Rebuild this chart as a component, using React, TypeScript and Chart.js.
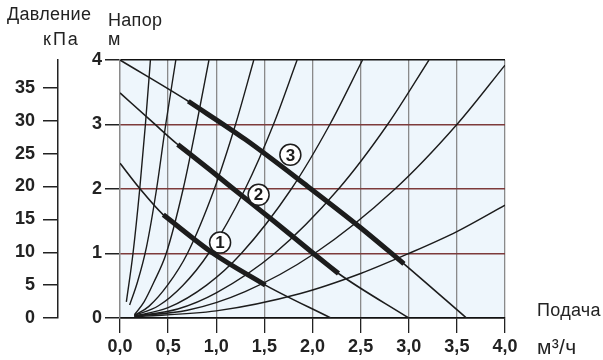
import React, { useEffect, useRef } from "react";
import { Chart, registerables } from "chart.js";

Chart.register(...registerables);

const FONT = '"Liberation Sans", Arial, Helvetica, sans-serif';

// ---- axis ticks ----
const flowTicks = [0, 0.5, 1, 1.5, 2, 2.5, 3, 3.5, 4];
const headTicks = [0, 1, 2, 3, 4];
const kpaTicks = [0, 5, 10, 15, 20, 25, 30, 35];
const kpaPerMetre = 9.81;

// ---- pump curves (Q m3/h, H m) ----
const pump1Q = [0, 0.21, 0.45, 0.97, 1.51, 2.19];
const pump1H = [2.4, 2.0, 1.6, 1.0, 0.51, 0];
const pump1Thick = [2, 4];

const pump2Q = [0, 0.35, 0.6, 0.94, 1.18, 1.6, 2.01, 2.27, 3.0];
const pump2H = [3.49, 3.02, 2.69, 2.29, 2.0, 1.5, 1.0, 0.69, 0];
const pump2Thick = [2, 7];

const pump3Q = [0, 0.71, 1.3, 1.95, 2.5, 2.95, 3.6];
const pump3H = [4.0, 3.36, 2.77, 2.04, 1.4, 0.84, 0];
const pump3Thick = [1, 5];

// ---- circled speed labels ----
const speedLabels = ["1", "2", "3"];
const speedLabelQ = [1.04, 1.44, 1.77];
const speedLabelH = [1.17, 1.91, 2.53];

// ---- system curves ----
const sysAQ = [0.066, 0.135, 0.205, 0.264, 0.316];
const sysAH = [0.25, 1.0, 2.0, 3.0, 4.0];
const sysBQ = [0.1, 0.18, 0.275, 0.38, 0.475, 0.58];
const sysBH = [0.2, 0.55, 1.1, 2.0, 3.0, 4.0];
const sysCQ = [0.15, 0.25, 0.35, 0.48, 0.656, 0.795, 0.924];
const sysCH = [0.05, 0.25, 0.55, 1.0, 2.0, 3.0, 4.0];
const sysDQ = [0.15, 0.3, 0.5, 0.7, 0.98, 1.2, 1.39];
const sysDH = [0.04, 0.18, 0.52, 1.0, 2.0, 3.0, 4.0];
const sysEQ = [0.15, 0.4, 0.65, 0.92, 1.3, 1.594, 1.84];
const sysEH = [0.04, 0.19, 0.5, 1.0, 2.0, 3.0, 4.0];
const sysFQ = [0.15, 0.5, 0.9, 1.26, 1.78, 2.18, 2.52];
const sysFH = [0.03, 0.16, 0.51, 1.0, 2.0, 3.0, 4.0];
const sysGQ = [0.15, 0.6, 1.0, 1.605, 2.27, 2.78, 3.21];
const sysGH = [0.03, 0.14, 0.39, 1.0, 2.0, 3.0, 4.0];
const sysHQ = [0.15, 0.7, 1.3, 2.02, 2.857, 3.5, 4.0];
const sysHH = [0.03, 0.12, 0.41, 1.0, 2.0, 3.0, 3.92];
const sysIQ = [0.15, 1.0, 1.875, 2.5, 3.0, 3.5, 4.0];
const sysIH = [0.02, 0.11, 0.38, 0.69, 1.0, 1.34, 1.75];

const systemCurves: [number[], number[]][] = [
  [sysAQ, sysAH],
  [sysBQ, sysBH],
  [sysCQ, sysCH],
  [sysDQ, sysDH],
  [sysEQ, sysEH],
  [sysFQ, sysFH],
  [sysGQ, sysGH],
  [sysHQ, sysHH],
  [sysIQ, sysIH],
];

const pumps: [number[], number[], number[]][] = [
  [pump1Q, pump1H, pump1Thick],
  [pump2Q, pump2H, pump2Thick],
  [pump3Q, pump3H, pump3Thick],
];

const toPts = (q: number[], h: number[]) => q.map((x, i) => ({ x, y: h[i] }));

const LINE = "#1c1c1c";

const bgPlugin = {
  id: "bgPlugin",
  beforeDraw(chart: any) {
    const { ctx, chartArea } = chart;
    ctx.save();
    ctx.fillStyle = "#ffffff";
    ctx.fillRect(0, 0, chart.width, chart.height);
    ctx.fillStyle = "#eef6fc";
    ctx.fillRect(chartArea.left, chartArea.top, chartArea.right - chartArea.left, chartArea.bottom - chartArea.top);
    ctx.restore();
  },
};

const textPlugin = {
  id: "textPlugin",
  afterDatasetsDraw(chart: any) {
    const ctx = chart.ctx;
    const meta = chart.getDatasetMeta(0);
    ctx.save();
    ctx.fillStyle = LINE;
    ctx.font = `bold 17px ${FONT}`;
    ctx.textAlign = "center";
    ctx.textBaseline = "middle";
    meta.data.forEach((el: any, i: number) => {
      ctx.fillText(speedLabels[i], el.x, el.y + 1);
    });
    ctx.restore();
  },
  afterDraw(chart: any) {
    const ctx = chart.ctx;
    ctx.save();
    ctx.fillStyle = "#222";
    ctx.textAlign = "left";
    ctx.textBaseline = "alphabetic";
    ctx.font = `18px ${FONT}`;
    try {
      (ctx as any).letterSpacing = "0.3px";
    } catch (e) {}
    ctx.fillText("Давление", 7, 20);
    ctx.fillText("Напор", 108, 26);
    ctx.fillText("м", 108, 45);
    ctx.fillText("Подача", 537, 316);
    ctx.font = `21px ${FONT}`;
    ctx.fillText("м³/ч", 537, 354);
    ctx.font = `18px ${FONT}`;
    try {
      (ctx as any).letterSpacing = "2px";
    } catch (e) {}
    ctx.fillText("кПа", 43, 45);
    ctx.restore();
  },
};

export default function App() {
  const ref = useRef<HTMLCanvasElement | null>(null);

  useEffect(() => {
    if (!ref.current) return;
    const datasets: any[] = [];
    datasets.push({
      data: toPts(speedLabelQ, speedLabelH),
      showLine: false,
      pointRadius: 10.5,
      pointBackgroundColor: "#ffffff",
      pointBorderColor: LINE,
      pointBorderWidth: 1.5,
      order: 0,
    });
    pumps.forEach(([q, h, t]) => {
      datasets.push({
        data: toPts(q.slice(t[0], t[1] + 1), h.slice(t[0], t[1] + 1)),
        borderColor: LINE,
        borderWidth: 5,
        pointRadius: 0,
        cubicInterpolationMode: "monotone",
        order: 1,
      });
    });
    pumps.forEach(([q, h]) => {
      datasets.push({
        data: toPts(q, h),
        borderColor: LINE,
        borderWidth: 1.6,
        pointRadius: 0,
        cubicInterpolationMode: "monotone",
        order: 2,
      });
    });
    systemCurves.forEach(([q, h]) => {
      datasets.push({
        data: toPts(q, h),
        borderColor: LINE,
        borderWidth: 1.4,
        pointRadius: 0,
        cubicInterpolationMode: "monotone",
        order: 3,
      });
    });

    const tickFont = { family: FONT, size: 18, weight: "bold" as const };

    const chart = new Chart(ref.current, {
      type: "line",
      data: { datasets },
      plugins: [bgPlugin, textPlugin],
      options: {
        responsive: false,
        animation: false,
        events: [],
        parsing: false as any,
        layout: { padding: { left: 0, right: 98, top: 60, bottom: 0 } },
        plugins: { legend: { display: false }, tooltip: { enabled: false } },
        scales: {
          x: {
            type: "linear",
            min: 0,
            max: 4,
            afterBuildTicks: (s: any) => {
              s.ticks = flowTicks.map((value) => ({ value }));
            },
            afterFit: (s: any) => {
              s.height = 42;
            },
            grid: { color: "#8a8a8a", lineWidth: 1.3, tickColor: "#222", tickLength: 15 },
            border: { color: "#111", width: 1.5 },
            ticks: {
              autoSkip: false,
              maxRotation: 0,
              padding: 3,
              color: "#222",
              font: tickFont,
              callback: (v: any) => Number(v).toFixed(1).replace(".", ","),
            },
          },
          y: {
            type: "linear",
            position: "left",
            weight: 0,
            min: 0,
            max: 4,
            afterBuildTicks: (s: any) => {
              s.ticks = headTicks.map((value) => ({ value }));
            },
            afterFit: (s: any) => {
              s.width = 62;
            },
            grid: {
              color: (c: any) => (c.tick && (c.tick.value === 4 || c.tick.value === 0) ? "#111" : "#7d3b3b"),
              lineWidth: 1.5,
              tickColor: "#222",
              tickLength: 15,
            },
            border: { color: "#8a8a8a", width: 1.3 },
            ticks: { padding: 3, color: "#222", font: tickFont, callback: (v: any) => String(v) },
          },
          yk: {
            type: "linear",
            position: "left",
            weight: 1,
            min: 0,
            max: 4 * kpaPerMetre,
            afterBuildTicks: (s: any) => {
              s.ticks = kpaTicks.map((value) => ({ value }));
            },
            afterFit: (s: any) => {
              s.width = 58;
            },
            grid: { drawOnChartArea: false, tickColor: "#222", tickLength: 15, lineWidth: 1.5 },
            border: { color: "#222", width: 1.5 },
            ticks: { padding: 8, color: "#222", font: tickFont, callback: (v: any) => String(v) },
          },
        },
      } as any,
    });
    return () => chart.destroy();
  }, []);

  return (
    <div style={{ position: "fixed", left: 0, top: 0, width: 603, height: 360, background: "#fff" }}>
      <canvas ref={ref} width={603} height={360} style={{ display: "block" }} />
    </div>
  );
}
